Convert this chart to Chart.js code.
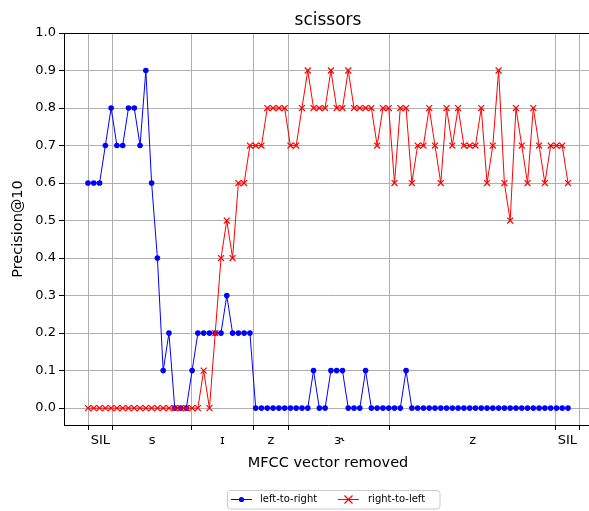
<!DOCTYPE html>
<html><head><meta charset="utf-8">
<script src="https://cdn.jsdelivr.net/npm/chart.js@4.4.0/dist/chart.umd.min.js"></script>
<style>
html,body{margin:0;padding:0;background:#fff;overflow:hidden;}
#wrap{width:600px;height:511px;position:relative;}
</style></head><body>
<div id="wrap"><canvas id="c" width="600" height="511"></canvas></div>
<script>
const chartTitle = 'scissors';
const xAxisLabel = 'MFCC vector removed';
const yAxisLabel = 'Precision@10';
const seriesNames = ['left-to-right', 'right-to-left'];
const phoneLabels = ['SIL', 's', 'ɪ', 'z', 'ɝ', 'z', 'SIL'];
const phoneBoundaries = [0, 4.3, 17.9, 28.6, 34.7, 52.2, 80.8, 85.0];
const yTickValues = [0, 0.1, 0.2, 0.3, 0.4, 0.5, 0.6, 0.7, 0.8, 0.9, 1.0];
const leftToRight = [
  0.6, 0.6, 0.6, 0.7, 0.8, 0.7, 0.7, 0.8, 0.8, 0.7,
  0.9, 0.6, 0.4, 0.1, 0.2, 0.0, 0.0, 0.0, 0.1, 0.2,
  0.2, 0.2, 0.2, 0.2, 0.3, 0.2, 0.2, 0.2, 0.2, 0.0,
  0.0, 0.0, 0.0, 0.0, 0.0, 0.0, 0.0, 0.0, 0.0, 0.1,
  0.0, 0.0, 0.1, 0.1, 0.1, 0.0, 0.0, 0.0, 0.1, 0.0,
  0.0, 0.0, 0.0, 0.0, 0.0, 0.1, 0.0, 0.0, 0.0, 0.0,
  0.0, 0.0, 0.0, 0.0, 0.0, 0.0, 0.0, 0.0, 0.0, 0.0,
  0.0, 0.0, 0.0, 0.0, 0.0, 0.0, 0.0, 0.0, 0.0, 0.0,
  0.0, 0.0, 0.0, 0.0
];
const rightToLeft = [
  0.0, 0.0, 0.0, 0.0, 0.0, 0.0, 0.0, 0.0, 0.0, 0.0,
  0.0, 0.0, 0.0, 0.0, 0.0, 0.0, 0.0, 0.0, 0.0, 0.0,
  0.1, 0.0, 0.2, 0.4, 0.5, 0.4, 0.6, 0.6, 0.7, 0.7,
  0.7, 0.8, 0.8, 0.8, 0.8, 0.7, 0.7, 0.8, 0.9, 0.8,
  0.8, 0.8, 0.9, 0.8, 0.8, 0.9, 0.8, 0.8, 0.8, 0.8,
  0.7, 0.8, 0.8, 0.6, 0.8, 0.8, 0.6, 0.7, 0.7, 0.8,
  0.7, 0.6, 0.8, 0.7, 0.8, 0.7, 0.7, 0.7, 0.8, 0.6,
  0.7, 0.9, 0.6, 0.5, 0.8, 0.7, 0.6, 0.8, 0.7, 0.6,
  0.7, 0.7, 0.7, 0.6
];

const FONT = "'DejaVu Sans', sans-serif";
const midpoints = phoneLabels.map((_, i) => (phoneBoundaries[i] + phoneBoundaries[i + 1]) / 2);
const isBoundary = v => phoneBoundaries.some(b => Math.abs(b - v) < 1e-6);
const labelFor = v => { const i = midpoints.findIndex(m => Math.abs(m - v) < 1e-6); return i >= 0 ? phoneLabels[i] : ''; };
const toPoints = arr => arr.map((y, i) => ({ x: i, y }));

const decorPlugin = {
  id: 'decor',
  afterDraw(chart) {
    const { ctx, chartArea: a } = chart;
    ctx.save();
    ctx.strokeStyle = '#000'; ctx.lineWidth = 1;
    ctx.beginPath();
    ctx.moveTo(a.left, Math.round(a.top) + 0.5); ctx.lineTo(a.right, Math.round(a.top) + 0.5);
    ctx.stroke();
    const cx = (a.left + a.right) / 2;
    ctx.fillStyle = '#000';
    ctx.textAlign = 'center';
    ctx.textBaseline = 'alphabetic';
    ctx.font = '17px ' + FONT;
    ctx.fillText(chartTitle, cx, 25);
    ctx.font = '14.5px ' + FONT;
    ctx.fillText(xAxisLabel, cx, 467);
    ctx.save();
    ctx.translate(22, (a.top + a.bottom) / 2);
    ctx.rotate(-Math.PI / 2);
    ctx.fillText(yAxisLabel, 0, 0);
    ctx.restore();
    const lx = 227, ly = 490, lw = 213, lh = 19, r = 3;
    ctx.fillStyle = 'rgba(255,255,255,0.8)';
    ctx.strokeStyle = '#cccccc';
    ctx.beginPath();
    ctx.moveTo(lx + r, ly + 0.5);
    ctx.arcTo(lx + lw, ly + 0.5, lx + lw, ly + lh, r);
    ctx.arcTo(lx + lw, ly + lh, lx, ly + lh, r);
    ctx.arcTo(lx + 0.5, ly + lh, lx + 0.5, ly, r);
    ctx.arcTo(lx + 0.5, ly + 0.5, lx + lw, ly + 0.5, r);
    ctx.closePath(); ctx.fill(); ctx.stroke();
    const my = 499.5;
    const ds = chart.data.datasets;
    ctx.strokeStyle = ds[0].borderColor; ctx.lineWidth = 1;
    ctx.beginPath(); ctx.moveTo(231, my); ctx.lineTo(252, my); ctx.stroke();
    ctx.fillStyle = ds[0].borderColor;
    ctx.beginPath(); ctx.arc(241.5, my, 2.6, 0, Math.PI * 2); ctx.fill();
    ctx.strokeStyle = ds[1].borderColor;
    ctx.beginPath(); ctx.moveTo(338, my); ctx.lineTo(359, my); ctx.stroke();
    ctx.lineWidth = 1.2;
    ctx.beginPath();
    ctx.moveTo(344.5, my - 4); ctx.lineTo(352.5, my + 4);
    ctx.moveTo(352.5, my - 4); ctx.lineTo(344.5, my + 4);
    ctx.stroke();
    ctx.fillStyle = '#000';
    ctx.font = '10px ' + FONT;
    ctx.textAlign = 'left'; ctx.textBaseline = 'middle';
    ctx.fillText(ds[0].label, 260, my);
    ctx.fillText(ds[1].label, 368, my);
    ctx.restore();
  }
};

new Chart(document.getElementById('c'), {
  type: 'line',
  data: {
    datasets: [
      {
        label: seriesNames[0], data: toPoints(leftToRight), order: 1,
        borderColor: '#0000ff', backgroundColor: '#0000ff', borderWidth: 1,
        pointStyle: 'circle', pointRadius: 2.8, pointBorderWidth: 0,
        pointBackgroundColor: '#0000ff', tension: 0, fill: false
      },
      {
        label: seriesNames[1], data: toPoints(rightToLeft), order: 0,
        borderColor: '#ff0000', backgroundColor: '#ff0000', borderWidth: 1,
        pointStyle: 'crossRot', pointRadius: 4.2, pointBorderWidth: 1.2,
        pointBorderColor: '#ff0000', tension: 0, fill: false
      }
    ]
  },
  options: {
    responsive: false, animation: false, devicePixelRatio: 1,
    layout: { padding: { top: 33, right: 8, left: 0, bottom: 0 } },
    plugins: { legend: { display: false }, title: { display: false }, tooltip: { enabled: false } },
    scales: {
      x: {
        type: 'linear', min: -4.15, max: 87.15,
        afterBuildTicks: s => { s.ticks = [...phoneBoundaries, ...midpoints].sort((a, b) => a - b).map(v => ({ value: v })); },
        afterFit: s => { s.height = 86; },
        grid: {
          color: c => (c.tick && isBoundary(c.tick.value)) ? '#b0b0b0' : 'rgba(0,0,0,0)',
          tickColor: c => (c.tick && isBoundary(c.tick.value)) ? '#000' : 'rgba(0,0,0,0)',
          tickLength: 5, lineWidth: 1
        },
        border: { display: true, color: '#000', width: 1 },
        ticks: {
          autoSkip: false, maxRotation: 0, minRotation: 0, padding: 3,
          color: '#000', font: { family: FONT, size: 13 },
          callback: v => labelFor(v)
        }
      },
      y: {
        type: 'linear', min: -0.045, max: 1.0,
        afterBuildTicks: s => { s.ticks = yTickValues.map(v => ({ value: v })); },
        afterFit: s => { s.width = 64; },
        grid: { color: '#b0b0b0', tickColor: '#000', tickLength: 5, lineWidth: 1 },
        border: { display: true, color: '#000', width: 1 },
        ticks: {
          padding: 3, color: '#000', font: { family: FONT, size: 13 },
          callback: v => Number(v).toFixed(1)
        }
      }
    }
  },
  plugins: [decorPlugin]
});
</script>
</body></html>
